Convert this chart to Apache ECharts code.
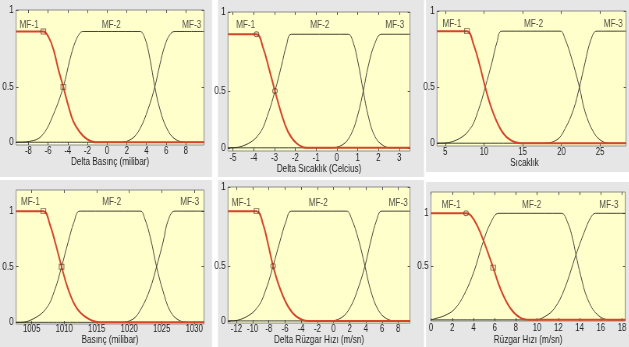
<!DOCTYPE html>
<html>
<head>
<meta charset="utf-8">
<script src="https://cdn.jsdelivr.net/npm/echarts@6/dist/echarts.min.js"></script>
<style>
  html, body { margin: 0; padding: 0; background: #fff; overflow: hidden; }
  /* the source figure is a horizontally squeezed screenshot: draw wide, squeeze back */
  #main { width: 806px; height: 347px; transform: scaleX(0.78); transform-origin: 0 0; }
</style>
</head>
<body>
<div id="main"></div>
<script>
// membership curves, [x, degree]
var p1_mf1 = [[-9.25,1],[-6.48,1],[-5.95,0.95],[-5.46,0.84],[-4.96,0.66],[-4.45,0.5],[-3.94,0.33],[-3.44,0.19],[-2.76,0.09],[-2.08,0.03],[-1.24,0],[9.85,0]];
var p1_mf2 = [[-9.25,0],[-9.18,0],[-7.49,0.015],[-6.48,0.075],[-5.46,0.25],[-4.45,0.5],[-3.77,0.75],[-3.26,0.9],[-2.76,0.985],[-2.42,1],[3.33,1],[3.84,0.94],[4.34,0.76],[4.85,0.5],[5.36,0.3],[6.04,0.13],[6.88,0.03],[8.07,0],[9.85,0]];
var p1_mf3 = [[-9.25,0],[1.3,0],[2.49,0.03],[3.33,0.12],[4.17,0.3],[4.85,0.5],[5.36,0.7],[5.86,0.87],[6.37,0.97],[6.88,1],[9.85,1]];

var p2_mf1 = [[-5.24,1],[-3.87,1],[-3.55,0.88],[-3.27,0.7],[-2.98,0.5],[-2.67,0.3],[-2.35,0.14],[-1.94,0.04],[-1.46,0],[3.52,0]];
var p2_mf2 = [[-5.24,0],[-5.16,0],[-4.35,0.03],[-3.71,0.13],[-3.31,0.3],[-2.98,0.5],[-2.67,0.72],[-2.43,0.9],[-2.19,1],[0.54,1],[0.78,0.93],[1.02,0.75],[1.27,0.5],[1.51,0.28],[1.83,0.1],[2.23,0.02],[2.63,0],[3.52,0]];
var p2_mf3 = [[-5.24,0],[-0.34,0],[0.3,0.03],[0.71,0.13],[1.02,0.3],[1.27,0.5],[1.51,0.72],[1.83,0.92],[2.15,1],[3.52,1]];

var p3_mf1 = [[3.93,1],[7.8,1],[8.66,0.88],[9.43,0.7],[10.16,0.5],[11.03,0.3],[12.1,0.13],[13.17,0.04],[14.68,0],[28.35,0]];
var p3_mf2 = [[3.93,0],[4.35,0],[6.5,0.03],[8.23,0.13],[9.3,0.3],[10.16,0.5],[11.03,0.72],[11.67,0.9],[12.3,1],[19.84,1],[20.48,0.93],[21.35,0.75],[22.33,0.5],[23.06,0.28],[24.14,0.1],[25.2,0.02],[26.3,0],[28.35,0]];
var p3_mf3 = [[3.93,0],[17.47,0],[19.41,0.03],[20.48,0.13],[21.56,0.3],[22.33,0.5],[23.06,0.72],[23.8,0.92],[24.57,1],[28.35,1]];

var p4_mf1 = [[1002.6,1],[1006.8,1],[1007.8,0.88],[1008.7,0.7],[1009.6,0.5],[1010.6,0.3],[1011.9,0.13],[1013.5,0.04],[1015.5,0],[1031.5,0]];
var p4_mf2 = [[1002.6,0],[1003.2,0],[1005.2,0.03],[1007.3,0.13],[1008.6,0.3],[1009.6,0.5],[1010.6,0.72],[1011.5,0.9],[1012.4,1],[1021.7,1],[1022.4,0.93],[1023.3,0.75],[1024.2,0.5],[1025.2,0.28],[1026.3,0.1],[1027.6,0.02],[1029.1,0],[1031.5,0]];
var p4_mf3 = [[1002.6,0],[1018.6,0],[1020.6,0.03],[1021.9,0.13],[1023.2,0.3],[1024.2,0.5],[1025.2,0.72],[1026,0.92],[1027,1],[1031.5,1]];

var p5_mf1 = [[-13.04,1],[-9.52,1],[-8.7,0.88],[-8.09,0.7],[-7.47,0.5],[-6.64,0.3],[-5.61,0.13],[-4.57,0.04],[-3.14,0],[9.45,0]];
var p5_mf2 = [[-13.04,0],[-12.83,0],[-10.97,0.03],[-9.33,0.13],[-8.29,0.3],[-7.47,0.5],[-6.64,0.72],[-5.9,0.9],[-5.19,1],[1.61,1],[2.23,0.93],[3.05,0.75],[3.88,0.5],[4.58,0.28],[5.52,0.1],[6.56,0.02],[7.8,0],[9.45,0]];
var p5_mf3 = [[-13.04,0],[-0.66,0],[0.99,0.03],[2.11,0.13],[3.05,0.3],[3.88,0.5],[4.58,0.72],[5.33,0.92],[5.95,1],[9.45,1]];

var p6_mf1 = [[0,1],[3.3,1],[3.76,0.98],[4.37,0.88],[5.0,0.73],[5.86,0.49],[6.55,0.29],[7.47,0.11],[8.4,0.02],[9.3,0],[18.3,0]];
var p6_mf2 = [[0,0],[0.35,0.01],[1.28,0.04],[2.21,0.1],[3.14,0.24],[4.07,0.46],[4.84,0.71],[5.62,0.91],[6.39,1],[12.27,1],[12.89,0.91],[13.35,0.76],[13.66,0.61],[14.12,0.41],[14.74,0.2],[15.67,0.05],[16.9,0],[18.3,0]];
var p6_mf3 = [[0,0],[9.8,0],[10.72,0.03],[11.65,0.11],[12.58,0.29],[13.66,0.61],[14.43,0.82],[15.05,0.96],[15.5,1],[18.3,1]];

// little hollow markers on MF-1
var p1_marks = [[-6.48,1],[-4.45,0.5]];
var p2_marks = [[-3.87,1],[-2.98,0.5]];
var p3_marks = [[7.8,1]];
var p4_marks = [[1006.8,1],[1009.6,0.5]];
var p5_marks = [[-9.52,1],[-7.47,0.5]];
var p6_marks = [[3.3,1],[5.86,0.49]];

// MF name labels (data coords)
var mf_names = ['MF-1','MF-2','MF-3'];
var p1_mfpos = [[-7.93,1.06],[0.43,1.06],[8.6,1.06]];
var p2_mfpos = [[-4.39,1.08],[-0.82,1.08],[2.79,1.08]];
var p3_mfpos = [[5.86,1.06],[16.4,1.06],[26.7,1.06]];
var p4_mfpos = [[1004.8,1.08],[1017.3,1.08],[1029.3,1.08]];
var p5_mfpos = [[-11.4,1.07],[-1.9,1.07],[8.0,1.07]];
var p6_mfpos = [[1.9,1.08],[9.48,1.08],[16.76,1.08]];

// tick labels
var p1_xticks = [-8,-6,-4,-2,0,2,4,6,8];
var p2_xticks = [-5,-4,-3,-2,-1,0,1,2,3];
var p3_xticks = [5,10,15,20,25];
var p4_xticks = [1005,1010,1015,1020,1025,1030];
var p5_xticks = [-12,-10,-8,-6,-4,-2,0,2,4,6,8];
var p6_xticks = [0,2,4,6,8,10,12,14,16,18];
var yticks = [0, 0.5, 1];
var p6_yticks = [0.5, 1];

var x_titles = ['Delta Basınç (milibar)', 'Delta Sıcaklık (Celcius)', 'Sıcaklık',
                'Basınç (milibar)', 'Delta Rüzgar Hızı (m/sn)', 'Rüzgar Hızı (m/sn)'];

var SX = 0.78;   // horizontal squeeze applied by CSS
var FONT = '"Liberation Sans",Arial,sans-serif';
var RED = '#d4452a';
var INK = '#2e2e26';

// layout per panel in screen px (gray box, plot area, label gaps, title shift), axis ranges
var panels = [
  {box:[0,0,212,177],   grid:[16,10,188,135],  gap:[1,9],  shift:0,  x:[-9.25,9.85],  y:[-0.025,1.194], oneTop:true,
   mf:[p1_mf1,p1_mf2,p1_mf3], marks:p1_marks, shapes:['rect','rect'], mfpos:p1_mfpos, xt:p1_xticks, yt:yticks},
  {box:[218,0,206,177], grid:[228,12,182,139], gap:[2,11], shift:0,  x:[-5.24,3.52],  y:[-0.028,1.196], oneTop:true,
   mf:[p2_mf1,p2_mf2,p2_mf3], marks:p2_marks, shapes:['circle','circle'], mfpos:p2_mfpos, xt:p2_xticks, yt:yticks},
  {box:[426,0,203,172], grid:[437,11,189,135], gap:[1,8],  shift:18, x:[3.93,28.35],  y:[-0.025,1.18],  oneTop:true,
   mf:[p3_mf1,p3_mf2,p3_mf3], marks:p3_marks, shapes:['rect'], mfpos:p3_mfpos, xt:p3_xticks, yt:yticks},
  {box:[0,180,212,167], grid:[16,190,188,134], gap:[0,7],  shift:0,  x:[1002.6,1031.5], y:[-0.015,1.19], oneTop:false,
   mf:[p4_mf1,p4_mf2,p4_mf3], marks:p4_marks, shapes:['rect','rect'], mfpos:p4_mfpos, xt:p4_xticks, yt:yticks},
  {box:[218,180,206,167], grid:[228,187,182,139], gap:[1,9], shift:0,  x:[-13.04,9.45], y:[-0.02,1.22], oneTop:true,
   mf:[p5_mf1,p5_mf2,p5_mf3], marks:p5_marks, shapes:['rect','circle'], mfpos:p5_mfpos, xt:p5_xticks, yt:yticks},
  {box:[426,182,203,165], grid:[431,192,197,137], gap:[2,14], shift:0, x:[0,18.3], y:[-0.011,1.2], oneTop:false,
   mf:[p6_mf1,p6_mf2,p6_mf3], marks:p6_marks, shapes:['circle','rect'], mfpos:p6_mfpos, xt:p6_xticks, yt:p6_yticks}
];

var chart = echarts.init(document.getElementById('main'));
var option = {
  animation: false,
  backgroundColor: '#ffffff',
  graphic: [],
  grid: [], xAxis: [], yAxis: [], series: []
};

var tick = {inside: true, length: 3, lineStyle: {color: '#555', width: 1}};
var noLine = {show: false, onZero: false};
function plain(v) { return String(v); }

panels.forEach(function (p, i) {
  option.graphic.push({
    type: 'rect', z: -100, silent: true,
    shape: {x: p.box[0] / SX, y: p.box[1], width: p.box[2] / SX, height: p.box[3]},
    style: {fill: '#e6e6e6'}
  });
  option.grid.push({
    left: p.grid[0] / SX, top: p.grid[1], width: p.grid[2] / SX, height: p.grid[3],
    show: true, backgroundColor: '#ffffcc', borderColor: '#8d8d8d', borderWidth: 1
  });

  // y label "1" sits on the frame top in most panels
  var yv = p.yt.map(function (v) { return (v === 1 && p.oneTop) ? p.y[1] : v; });

  option.xAxis.push({
    gridIndex: i, type: 'value', min: p.x[0], max: p.x[1], position: 'bottom',
    name: x_titles[i], nameLocation: 'middle', nameGap: p.gap[1],
    nameTextStyle: {fontSize: 10.5, color: '#222', fontFamily: FONT, padding: [0, p.shift, 0, 0]},
    axisLine: noLine, splitLine: {show: false},
    axisTick: Object.assign({customValues: p.xt}, tick),
    axisLabel: {customValues: p.xt, fontSize: 10, margin: p.gap[0], color: '#222', fontFamily: FONT,
                showMinLabel: true, showMaxLabel: true, formatter: plain}
  });
  option.xAxis.push({
    gridIndex: i, type: 'value', min: p.x[0], max: p.x[1], position: 'top',
    axisLine: noLine, splitLine: {show: false}, axisLabel: {show: false},
    axisTick: Object.assign({customValues: p.xt}, tick)
  });
  option.yAxis.push({
    gridIndex: i, type: 'value', min: p.y[0], max: p.y[1], position: 'left',
    axisLine: noLine, splitLine: {show: false},
    axisTick: Object.assign({customValues: yv}, tick),
    axisLabel: {customValues: yv, fontSize: 10.5, margin: 3, color: '#222', fontFamily: FONT,
                showMinLabel: true, showMaxLabel: true,
                formatter: function (v) { return v > 0.9 ? '1' : String(v); }}
  });
  option.yAxis.push({
    gridIndex: i, type: 'value', min: p.y[0], max: p.y[1], position: 'right',
    axisLine: noLine, splitLine: {show: false}, axisLabel: {show: false},
    axisTick: Object.assign({customValues: yv}, tick)
  });

  var xi = i * 2, yi = i * 2;
  [1, 2].forEach(function (k) {
    option.series.push({
      type: 'line', xAxisIndex: xi, yAxisIndex: yi, data: p.mf[k],
      symbol: 'none', smooth: 0.4, silent: true, z: 2,
      lineStyle: {color: INK, width: 0.9}
    });
  });
  option.series.push({
    type: 'line', xAxisIndex: xi, yAxisIndex: yi, data: p.mf[0],
    symbol: 'none', smooth: 0.4, silent: true, z: 3,
    lineStyle: {color: RED, width: 2}
  });
  option.series.push({
    type: 'scatter', xAxisIndex: xi, yAxisIndex: yi, silent: true, z: 4,
    symbolSize: [6, 5],
    itemStyle: {color: 'rgba(0,0,0,0)', borderColor: '#6a4636', borderWidth: 1},
    data: p.marks.map(function (m, j) { return {value: m, symbol: p.shapes[j]}; })
  });
  option.series.push({
    type: 'scatter', xAxisIndex: xi, yAxisIndex: yi, silent: true, z: 5,
    symbolSize: 1, itemStyle: {color: 'rgba(0,0,0,0)'},
    label: {show: true, position: 'inside', fontSize: 10.5, color: '#222', fontFamily: FONT,
            formatter: function (d) { return d.name; }},
    data: p.mfpos.map(function (v, j) { return {name: mf_names[j], value: v}; })
  });
});

chart.setOption(option);
</script>
</body>
</html>
